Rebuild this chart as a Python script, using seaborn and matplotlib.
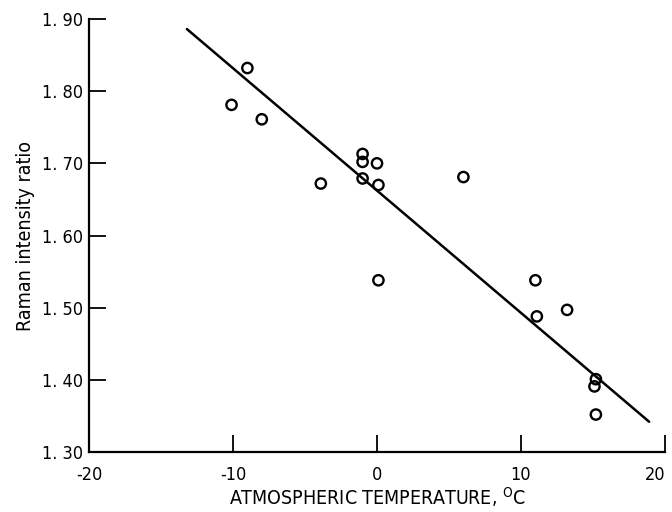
import numpy as np
import pandas as pd
import seaborn as sns
import matplotlib.pyplot as plt

# Data
temp = [-10.1, -9.0, -8.0, -3.9, -1.0, -1.0, -1.0, 0.0, 0.1, 0.1, 6.0,
        11.0, 11.1, 13.2, 15.2, 15.1, 15.2]
ratio = [1.781, 1.832, 1.761, 1.672, 1.713, 1.702, 1.679, 1.700, 1.670, 1.538, 1.681,
         1.538, 1.488, 1.497, 1.401, 1.391, 1.352]

# Fitted line end points
fit_x = [-13.2, 18.9]
fit_y = [1.886, 1.342]

x_ticks = [-20, -10, 0, 10, 20]
y_ticks = [1.30, 1.40, 1.50, 1.60, 1.70, 1.80, 1.90]
y_tick_labels = ["1. 30", "1. 40", "1. 50", "1. 60", "1. 70", "1. 80", "1. 90"]

df = pd.DataFrame({"temp": temp, "ratio": ratio})
fit = pd.DataFrame({"temp": fit_x, "ratio": fit_y})

sns.set_theme(style="ticks")
plt.rcParams['font.family'] = ['DejaVu Sans']
plt.rcParams['font.stretch'] = 'condensed'
plt.rcParams['text.color'] = 'black'
plt.rcParams['axes.labelcolor'] = 'black'

fig = plt.figure(figsize=(6.72, 5.12), dpi=100)
ax = fig.add_axes([0.1324, 0.117, 0.8572, 0.846])

sns.lineplot(data=fit, x="temp", y="ratio", color="black", linewidth=1.8, ax=ax)
sns.scatterplot(data=df, x="temp", y="ratio", facecolor="none", edgecolor="black",
                linewidth=1.7, s=55, ax=ax)

ax.set_xlim(-20, 20)
ax.set_ylim(1.30, 1.90)
ax.set_xticks(x_ticks)
ax.set_xticklabels([str(t) for t in x_ticks])
ax.set_yticks(y_ticks)
ax.set_yticklabels(y_tick_labels)

sns.despine(ax=ax)
for side in ["left", "bottom"]:
    ax.spines[side].set_linewidth(1.6)
    ax.spines[side].set_color("black")

ax.tick_params(axis="both", direction="in", length=12.5, width=1.3, colors="black",
               labelsize=13)
ax.tick_params(axis="x", pad=10)
ax.tick_params(axis="y", pad=4)
# keep the last x label inside the figure
ax.get_xticklabels()[-1].set_horizontalalignment("right")

ax.set_xlabel("ATMOSPHERIC TEMPERATURE, $^{\\mathrm{O}}$C", fontsize=14, labelpad=1)
ax.set_ylabel("Raman intensity ratio", fontsize=14, labelpad=5)

fig.savefig("out.png", dpi=100)
